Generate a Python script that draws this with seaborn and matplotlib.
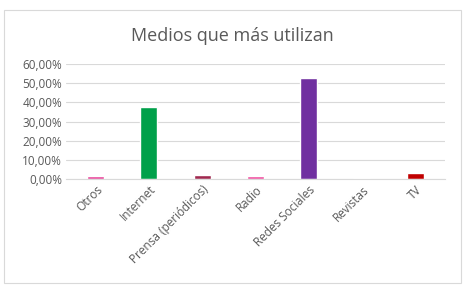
import matplotlib
matplotlib.use("Agg")
import matplotlib.pyplot as plt
from matplotlib.patches import Rectangle
import seaborn as sns
import pandas as pd

# datos
medios = ["Otros", "Internet", "Prensa (periódicos)", "Radio",
          "Redes Sociales", "Revistas", "TV"]
porcentajes = [1.4, 37.5, 2.0, 1.4, 52.7, 0.4, 3.2]
colores = ["#E8479B", "#00A04A", "#A0294F", "#F050A0",
           "#7030A0", "#E899B8", "#C00000"]

df = pd.DataFrame({"Medio": medios, "Porcentaje": porcentajes})

sns.set_style("white")
plt.rcParams["font.family"] = ["Open Sans", "DejaVu Sans"]

fig = plt.figure(figsize=(4.64, 2.86), dpi=100)
ax = fig.add_axes([0.143, 0.375, 0.815, 0.40])

sns.barplot(data=df, x="Medio", y="Porcentaje", hue="Medio",
            palette=colores, saturation=1, width=0.32, legend=False, ax=ax)

ax.set_ylim(0, 60)
ax.set_yticks(range(0, 61, 10))
ax.set_yticklabels([f"{v},00%" for v in range(0, 61, 10)],
                   fontsize=8.5, color="#595959")
ax.set_xticks(range(len(medios)))
ax.set_xticklabels(medios, rotation=45, ha="right", rotation_mode="anchor",
                   fontsize=8.5, color="#595959")
ax.tick_params(axis="both", length=0, pad=3)
ax.grid(axis="y", color="#D9D9D9", linewidth=0.8)
ax.set_axisbelow(True)
for s in ["top", "right", "left"]:
    ax.spines[s].set_visible(False)
ax.spines["bottom"].set_color("#D9D9D9")
ax.set_xlabel("")
ax.set_ylabel("")
ax.set_xlim(-0.55, 6.55)

fig.text(0.5, 0.875, "Medios que más utilizan", ha="center", va="center",
         fontsize=13, color="#595959")

fig.patches.append(Rectangle((0.008, 0.012), 0.985, 0.952, transform=fig.transFigure,
                             fill=False, edgecolor="#D9D9D9", linewidth=0.8))

plt.savefig("out.png", dpi=100)
